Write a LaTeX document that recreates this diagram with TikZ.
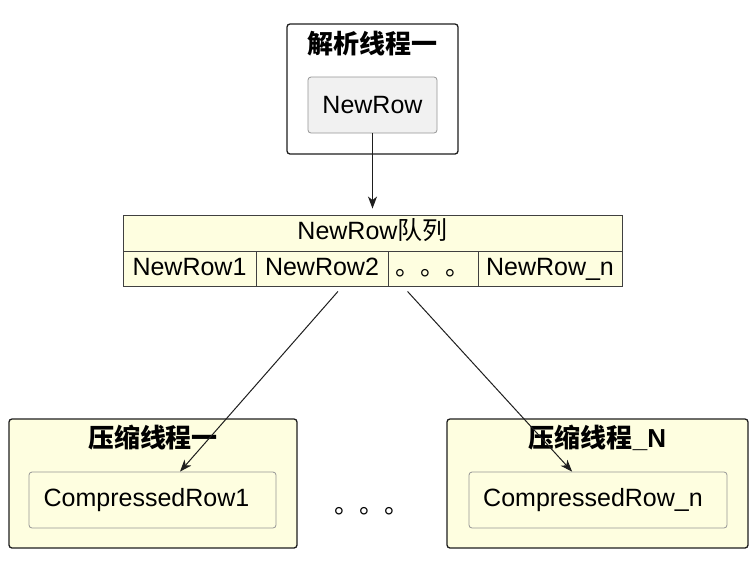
\documentclass[tikz,border=0pt]{standalone}
\usepackage{fontspec}
\setmainfont{Liberation Sans}
\newfontfamily\cjk{Noto Sans CJK SC}
\usetikzlibrary{arrows.meta,calc}
\definecolor{frameyel}{RGB}{254,254,224}
\definecolor{boxgray}{RGB}{241,241,241}
\definecolor{lineblk}{RGB}{30,30,30}
\definecolor{edgegray}{RGB}{150,150,150}
\begin{document}
\begin{tikzpicture}[x=1pt,y=-1pt,
  every node/.style={font=\fontsize{25}{29}\selectfont, inner sep=0pt, text=black},
  frame/.style={draw=lineblk, line width=1.3pt, rounded corners=3pt, rectangle},
  innerbox/.style={draw=edgegray, line width=0.8pt, rounded corners=3pt, rectangle},
  cell/.style={draw=lineblk!85, line width=0.9pt, fill=frameyel, rectangle, text height=18pt, text depth=5pt},
  ttl/.style={font=\fontsize{26}{30}\selectfont\bfseries},
  arr/.style={draw=lineblk, line width=1pt, -{Stealth[length=12pt,width=9pt,inset=3.5pt]}}]
\useasboundingbox (0,0) rectangle (756,566);

% top thread
\node[frame, fill=white, minimum width=171pt, minimum height=130pt] (t1) at (372.5,89) {};
\node[ttl] (t1title) at (372.5,44) {\cjk\bfseries 解析线程一};
\node[innerbox, fill=boxgray, minimum width=129pt, minimum height=56pt] (nr) at (372.5,105) {NewRow};

% queue
\node[cell, minimum width=499pt, minimum height=36pt] (qh) at (372.5,233) {NewRow{\cjk 队列}};
\node[cell, minimum width=133pt, minimum height=35pt] (c1) at (189.5,268.5) {NewRow1};
\node[cell, minimum width=132pt, minimum height=35pt] (c2) at (322,268.5) {NewRow2};
\node[cell, minimum width=90pt, minimum height=35pt] (c3) at (433,268.5) {};
\node (c3dots) at ($(c3.center)+(0,5)$) {\cjk 。。。};
\node[cell, minimum width=144pt, minimum height=35pt] (c4) at (550,268.5) {NewRow\_n};

% compress threads
\node[frame, fill=frameyel, minimum width=288pt, minimum height=129pt] (fl) at (153,483.5) {};
\node[ttl] (fltitle) at (153,438) {\cjk\bfseries 压缩线程一};
\node[innerbox, fill=frameyel, minimum width=247pt, minimum height=56pt] (cl) at (152.5,500) {};
\node (cltext) at ($(cl.center)+(-6,0)$) {CompressedRow1};

\node[frame, fill=frameyel, minimum width=301pt, minimum height=129pt] (fr) at (597.5,483.5) {};
\node[ttl] (frtitle) at (597.5,438) {{\cjk\bfseries 压缩线程}\textbf{\_N}};
\node[innerbox, fill=frameyel, minimum width=258pt, minimum height=56pt] (cn) at (598,500) {};
\node (cntext) at ($(cn.center)+(-5,0)$) {CompressedRow\_n};

\node (dots) at (372,511) {\cjk 。。。};

% arrows
\draw[arr, shorten >=6pt] (nr.south) -- (qh.north);
\draw[arr] ($(c2.south west)!0.62!(c2.south east)+(0,5)$) -- ($(cl.north west)!0.611!(cl.north east)$);
\draw[arr] ($(c3.south west)!0.22!(c3.south east)+(0,5)$) -- ($(cn.north west)!0.40!(cn.north east)$);
\end{tikzpicture}
\end{document}
